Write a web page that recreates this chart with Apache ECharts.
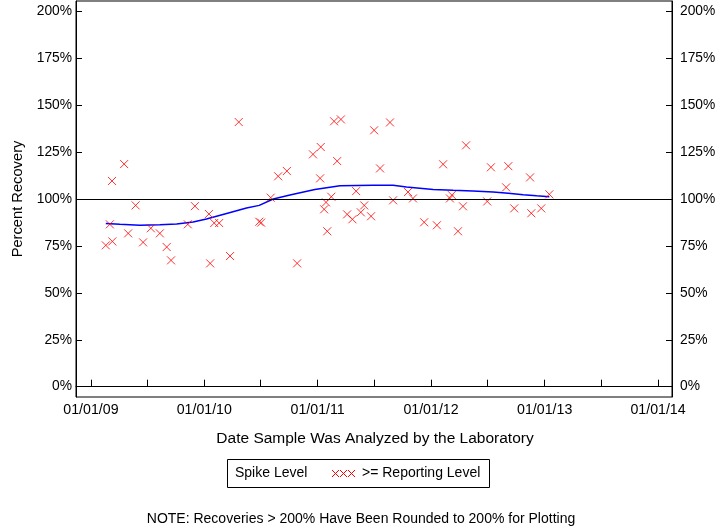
<!DOCTYPE html>
<html>
<head>
<meta charset="utf-8">
<script src="https://cdn.jsdelivr.net/npm/echarts@6/dist/echarts.min.js"></script>
<style>
html,body{margin:0;padding:0;background:#fff;}
#chart{width:720px;height:528px;}
</style>
</head>
<body>
<div id="chart"></div>
<script>
// ---- data ----
const sampleDates = [
  '2009-02-18','2009-03-03','2009-03-10','2009-03-11','2009-04-18','2009-05-01','2009-05-25','2009-06-18',
  '2009-07-13','2009-08-11','2009-09-02','2009-09-16','2009-11-09','2009-12-02','2010-01-16','2010-01-20',
  '2010-02-02','2010-02-18','2010-03-25','2010-04-22','2010-06-27','2010-07-03','2010-08-03','2010-08-27',
  '2010-09-24','2010-10-27','2010-12-17','2011-01-09','2011-01-11','2011-01-22','2011-01-28','2011-02-01',
  '2011-02-14','2011-02-23','2011-03-05','2011-03-17','2011-04-06','2011-04-23','2011-05-05','2011-05-20',
  '2011-05-31','2011-06-22','2011-07-02','2011-07-21','2011-08-22','2011-09-01','2011-10-19','2011-11-04',
  '2011-12-10','2012-01-20','2012-02-09','2012-03-02','2012-03-08','2012-03-28','2012-04-13','2012-04-23',
  '2012-06-30','2012-07-12','2012-08-30','2012-09-06','2012-09-25','2012-11-15','2012-11-19','2012-12-21',
  '2013-01-16'
];
const recoveries = [
  75.3, 86.5, 109.6, 77.4, 118.6, 81.7, 96.6, 76.9,
  84.4, 81.7, 74.4, 67.3, 86.5, 96.2, 92.0, 65.7,
  87.2, 87.2, 69.6, 141.0, 87.9, 87.4, 100.7, 112.1,
  114.9, 65.7, 123.8, 111.0, 127.7, 94.5, 98.2, 82.8,
  101.2, 141.4, 120.2, 142.4, 91.8, 89.2, 104.2, 92.9,
  96.6, 90.8, 136.6, 116.3, 140.8, 99.3, 103.7, 100.3,
  87.6, 86.0, 118.5, 100.3, 102.1, 82.8, 96.1, 128.6,
  98.7, 116.9, 106.2, 117.5, 95.0, 111.5, 92.4, 95.0,
  102.5
];
const trendDates = [
  '2009-02-18','2009-04-04','2009-06-07','2009-08-11','2009-10-04','2009-11-26','2010-01-08','2010-03-14',
  '2010-05-17','2010-06-27','2010-08-11','2010-10-04','2010-12-23','2011-03-14','2011-06-29','2011-09-01',
  '2011-10-14','2012-01-08','2012-03-12','2012-05-15','2012-07-19','2012-09-06','2012-10-24','2012-12-06',
  '2013-01-16'
];
const trendValues = [
  87.0, 86.5, 86.0, 86.3, 86.7, 87.7, 89.3, 92.3,
  95.2, 96.6, 100.0, 102.1, 105.1, 107.1, 107.3, 107.3,
  106.4, 105.1, 104.6, 104.2, 103.7, 103.0, 102.3, 101.7,
  101.2
];
const yTickValues = [0, 25, 50, 75, 100, 125, 150, 175, 200];
const xLabelDates = ['2009-01-01','2010-01-01','2011-01-01','2012-01-01','2013-01-01','2014-01-01'];
const xTickDates = ['2009-01-01','2009-07-01','2010-01-01','2010-07-01','2011-01-01','2011-07-01',
  '2012-01-01','2012-07-01','2013-01-01','2013-07-01','2014-01-01'];
const referenceLevel = 100;
const xRange = ['2008-11-14','2014-02-15'];
const yRange = [-5.5, 205.5];

// ---- helpers ----
const ts = s => Date.parse(s + 'T00:00:00Z');
const fmtDate = v => {
  const d = new Date(v);
  const mm = String(d.getUTCMonth() + 1).padStart(2, '0');
  const dd = String(d.getUTCDate()).padStart(2, '0');
  const yy = String(d.getUTCFullYear()).slice(2);
  return mm + '/' + dd + '/' + yy;
};
const FONT = '"Liberation Sans", Arial, sans-serif';

const scatterData = sampleDates.map((d, i) => [ts(d), recoveries[i]]);
const trendData = trendDates.map((d, i) => [ts(d), trendValues[i]]);

const yAxisCommon = {
  type: 'value',
  min: yRange[0],
  max: yRange[1],
  splitLine: { show: false },
  axisLine: { show: true, lineStyle: { color: '#000', width: 1 } },
  axisTick: { show: true, inside: true, length: 6, customValues: yTickValues, lineStyle: { color: '#000' } },
  axisLabel: { customValues: yTickValues, formatter: v => v + '%', color: '#000', fontSize: 13.8, fontFamily: FONT }
};

// legend marker: three small crosses
const legendCrosses = [];
[332, 340, 348].forEach(x0 => {
  legendCrosses.push({ type: 'line', shape: { x1: x0, y1: 470, x2: x0 + 7, y2: 477 }, style: { stroke: '#ff0000', lineWidth: 1 } });
  legendCrosses.push({ type: 'line', shape: { x1: x0, y1: 477, x2: x0 + 7, y2: 470 }, style: { stroke: '#ff0000', lineWidth: 1 } });
});

const chart = echarts.init(document.getElementById('chart'), null, { renderer: 'canvas' });
chart.setOption({
  backgroundColor: '#fff',
  animation: false,
  grid: { left: 76, right: 48, top: 1, bottom: 131, show: true, borderColor: '#000', borderWidth: 1, backgroundColor: 'transparent' },
  xAxis: {
    type: 'value',
    min: ts(xRange[0]),
    max: ts(xRange[1]),
    splitLine: { show: false },
    axisLine: { show: true, lineStyle: { color: '#000', width: 1 } },
    axisTick: { show: true, inside: true, length: 7, customValues: xTickDates.map(ts), lineStyle: { color: '#000' } },
    axisLabel: { customValues: xLabelDates.map(ts), formatter: fmtDate, color: '#000', fontSize: 14.2, fontFamily: FONT, margin: 6 }
  },
  yAxis: [
    Object.assign({}, yAxisCommon, { position: 'left', axisLabel: Object.assign({}, yAxisCommon.axisLabel, { margin: 4 }) }),
    Object.assign({}, yAxisCommon, { position: 'right', axisLabel: Object.assign({}, yAxisCommon.axisLabel, { margin: 8 }) })
  ],
  series: [
    {
      name: 'trend',
      type: 'line',
      data: trendData,
      showSymbol: false,
      smooth: false,
      silent: true,
      lineStyle: { color: '#0000ff', width: 1.5 },
      markLine: {
        silent: true,
        symbol: ['none', 'none'],
        label: { show: false },
        lineStyle: { color: '#000', width: 1, type: 'solid' },
        data: [{ yAxis: referenceLevel }]
      },
      z: 3
    },
    {
      name: '>= Reporting Level',
      type: 'scatter',
      data: scatterData,
      symbol: 'path://M0,0L10,10M0,10L10,0',
      symbolSize: 8,
      itemStyle: { color: 'none', borderColor: '#ff0000', borderWidth: 1 },
      z: 4
    }
  ],
  graphic: [
    { type: 'text', x: 18, y: 199, rotation: Math.PI / 2,
      style: { text: 'Percent Recovery', fill: '#000', font: '14.7px ' + FONT, textAlign: 'center', textVerticalAlign: 'middle' } },
    { type: 'text', x: 375, y: 439,
      style: { text: 'Date Sample Was Analyzed by the Laboratory', fill: '#000', font: '15.5px ' + FONT, textAlign: 'center', textVerticalAlign: 'middle' } },
    { type: 'rect', shape: { x: 227.5, y: 459.5, width: 262, height: 28 },
      style: { fill: '#fff', stroke: '#000', lineWidth: 1 } },
    { type: 'text', x: 235, y: 473.5,
      style: { text: 'Spike Level', fill: '#000', font: '14px ' + FONT, textAlign: 'left', textVerticalAlign: 'middle' } }
  ].concat(legendCrosses).concat([
    { type: 'text', x: 362, y: 473.5,
      style: { text: '>= Reporting Level', fill: '#000', font: '14px ' + FONT, textAlign: 'left', textVerticalAlign: 'middle' } },
    { type: 'text', x: 361, y: 519,
      style: { text: 'NOTE: Recoveries > 200% Have Been Rounded to 200% for Plotting', fill: '#000', font: '14px ' + FONT, textAlign: 'center', textVerticalAlign: 'middle' } }
  ])
});
</script>
</body>
</html>
